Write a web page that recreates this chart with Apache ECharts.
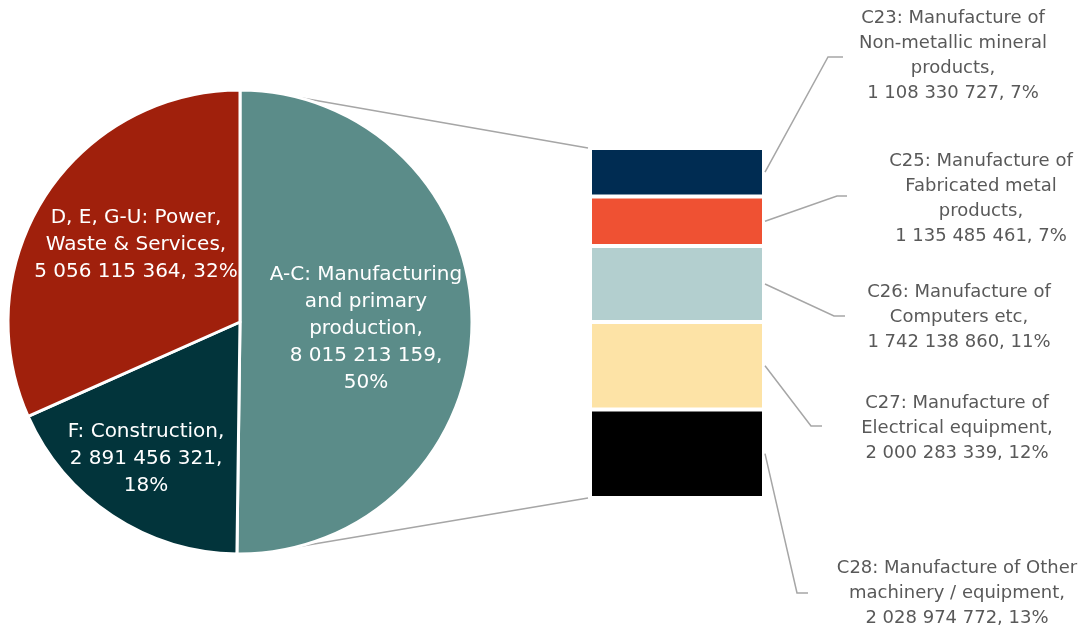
<!DOCTYPE html>
<html>
<head>
<meta charset="utf-8">
<script src="https://cdn.jsdelivr.net/npm/echarts@6/dist/echarts.min.js"></script>
<style>
  html, body { margin: 0; padding: 0; background: #fff; }
  #chart { width: 1089px; height: 628px; }
</style>
</head>
<body>
<div id="chart"></div>
<script>
// Sector split of the total (pie) and breakdown of manufacturing (bar)
const pieNames = [
  'A-C: Manufacturing\nand primary\nproduction',
  'F: Construction',
  'D, E, G-U: Power,\nWaste & Services'
];
const pieValues = [8015213159, 2891456321, 5056115364];
const pieColors = ['#5b8c89', '#02343b', '#a0200c'];

const barNames = [
  'C23: Manufacture of\nNon-metallic mineral\nproducts',
  'C25: Manufacture of\nFabricated metal\nproducts',
  'C26: Manufacture of\nComputers etc',
  'C27: Manufacture of\nElectrical equipment',
  'C28: Manufacture of Other\nmachinery / equipment'
];
const barValues = [1108330727, 1135485461, 1742138860, 2000283339, 2028974772];
const barPercents = [7, 7, 11, 12, 13];
const barColors = ['#002c52', '#ef5133', '#b3cfcf', '#fde3a6', '#000000'];

// layout
const PIE_CX = 240, PIE_CY = 322, PIE_R = 232;
const GRID_LEFT = 590, GRID_TOP = 148, GRID_W = 174, GRID_BOTTOM = 130;
const FONT = '"DejaVu Sans", sans-serif';
const pieValueSep = [',\n', ',\n', ', '];
const pieLabelPos = [[366, 329], [146, 459], [136, 245]];
const barLabelPos = [[953, 56], [981, 199], [959, 317], [957, 428], [957, 593]];
const barLeaderElbow = [[828, 57, 843], [837, 196, 847], [834, 316, 845], [811, 426, 822], [797, 593, 808]];
// angle (deg, clockwise from 12 o'clock) where the pie-to-bar connectors leave the rim
const CONNECTOR_ANGLE = 14;

function fmt(n) {
  return String(n).replace(/\B(?=(\d{3})+(?!\d))/g, ' ');
}

const barTotal = barValues.reduce((a, b) => a + b, 0);

const chart = echarts.init(document.getElementById('chart'));

const series = [{
  type: 'pie',
  center: [PIE_CX, PIE_CY],
  radius: PIE_R,
  startAngle: 90,
  clockwise: true,
  percentPrecision: 0,
  z: 3,
  itemStyle: { borderColor: '#fff', borderWidth: 3 },
  label: {
    show: true,
    position: 'inside',
    color: '#ffffff',
    fontFamily: FONT,
    fontSize: 20,
    lineHeight: 27,
    align: 'center',
    formatter: p => p.name + ',\n' + fmt(p.value) + pieValueSep[p.dataIndex] + p.percent + '%'
  },
  labelLayout: p => ({
    x: pieLabelPos[p.dataIndex][0],
    y: pieLabelPos[p.dataIndex][1],
    align: 'center',
    verticalAlign: 'middle'
  }),
  labelLine: { show: false },
  emphasis: { disabled: true },
  data: pieNames.map((n, i) => ({ name: n, value: pieValues[i], itemStyle: { color: pieColors[i] } }))
}];

barNames.forEach((n, i) => {
  series.push({
    type: 'bar',
    name: n,
    stack: 'mfg',
    barWidth: '100%',
    itemStyle: { color: barColors[i], borderColor: '#fff', borderWidth: 2 },
    label: {
      show: true,
      position: 'inside',
      color: '#595959',
      fontFamily: FONT,
      fontSize: 18,
      lineHeight: 25,
      align: 'center',
      formatter: () => n + ',\n' + fmt(barValues[i]) + ', ' + barPercents[i] + '%'
    },
    labelLayout: () => ({ x: barLabelPos[i][0], y: barLabelPos[i][1], align: 'center', verticalAlign: 'middle' }),
    emphasis: { disabled: true },
    data: [barValues[i]]
  });
});

chart.setOption({
  animation: false,
  backgroundColor: '#ffffff',
  grid: { left: GRID_LEFT, top: GRID_TOP, width: GRID_W, bottom: GRID_BOTTOM, containLabel: false },
  xAxis: { type: 'category', data: ['C'], show: false },
  yAxis: { type: 'value', inverse: true, min: 0, max: barTotal, show: false },
  tooltip: { show: false },
  series: series
});

// connectors from the pie to the bar, and leaders from bar segments to their labels
function drawConnectors() {
  const yTop = chart.convertToPixel({ yAxisIndex: 0 }, 0);
  const yBot = chart.convertToPixel({ yAxisIndex: 0 }, barTotal);
  const xRight = GRID_LEFT + GRID_W + 1;
  const a = CONNECTOR_ANGLE * Math.PI / 180;
  const rimX = PIE_CX + PIE_R * Math.sin(a);
  const rimDy = PIE_R * Math.cos(a);
  const lineStyle = { stroke: '#a6a6a6', lineWidth: 1.5, fill: null };
  const elements = [
    { type: 'line', z: 0, shape: { x1: rimX, y1: PIE_CY - rimDy, x2: GRID_LEFT - 2, y2: yTop }, style: lineStyle },
    { type: 'line', z: 0, shape: { x1: rimX, y1: PIE_CY + rimDy, x2: GRID_LEFT - 2, y2: yBot }, style: lineStyle }
  ];
  let cum = 0;
  barValues.forEach((v, i) => {
    const yc = chart.convertToPixel({ yAxisIndex: 0 }, cum + v / 2);
    cum += v;
    const e = barLeaderElbow[i];
    elements.push({
      type: 'polyline', z: 0,
      shape: { points: [[xRight, yc], [e[0], e[1]], [e[2], e[1]]] },
      style: lineStyle
    });
  });
  chart.setOption({ graphic: { elements: elements } });
}
drawConnectors();
</script>
</body>
</html>
